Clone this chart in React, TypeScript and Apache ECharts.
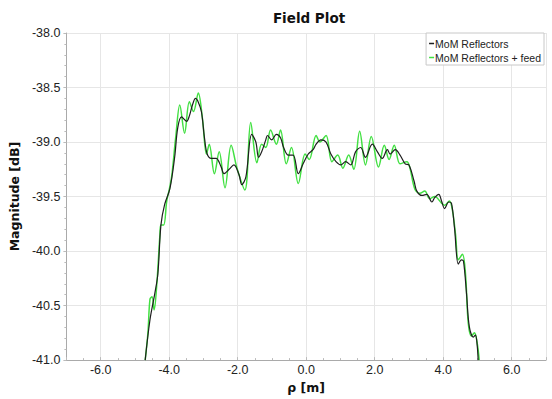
import React, { useEffect, useRef } from "react";
import * as echarts from "echarts";

const rhoBlack = [-4.70, -4.56, -4.42, -4.33, -4.24, -4.13, -3.98, -3.84, -3.75, -3.64, -3.49, -3.41, -3.32, -3.23, -3.17, -3.06, -2.97, -2.89, -2.77, -2.63, -2.48, -2.40, -2.25, -2.11, -1.96, -1.88, -1.76, -1.59, -1.47, -1.39, -1.30, -1.18, -1.13, -1.01, -0.87, -0.75, -0.66, -0.52, -0.38, -0.23, -0.09, 0.06, 0.20, 0.29, 0.43, 0.58, 0.72, 0.87, 1.01, 1.15, 1.30, 1.44, 1.59, 1.73, 1.93, 2.08, 2.22, 2.37, 2.45, 2.60, 2.74, 2.89, 3.00, 3.15, 3.23, 3.38, 3.52, 3.67, 3.75, 3.87, 3.95, 4.04, 4.16, 4.24, 4.33, 4.44, 4.53, 4.59, 4.68, 4.76, 4.88, 4.94, 4.99, 5.02];
const magBlack = [-41.00, -40.63, -40.39, -40.21, -39.76, -39.57, -39.43, -39.14, -38.87, -38.77, -38.81, -38.76, -38.66, -38.60, -38.62, -38.72, -38.96, -39.11, -39.15, -39.15, -39.23, -39.29, -39.25, -39.21, -39.30, -39.39, -39.32, -38.93, -39.00, -39.14, -39.09, -38.98, -38.94, -38.98, -38.93, -38.96, -39.05, -39.12, -39.12, -39.29, -39.20, -39.11, -39.07, -39.02, -38.98, -39.00, -39.11, -39.18, -39.21, -39.18, -39.21, -39.09, -39.05, -39.14, -39.02, -39.09, -39.15, -39.07, -39.11, -39.07, -39.12, -39.20, -39.21, -39.36, -39.45, -39.49, -39.48, -39.55, -39.51, -39.48, -39.54, -39.61, -39.55, -39.56, -39.79, -40.12, -40.08, -40.09, -40.39, -40.69, -40.79, -40.77, -40.86, -41.00];

const rhoGreen = [-4.70, -4.62, -4.56, -4.50, -4.44, -4.36, -4.27, -4.24, -4.16, -4.07, -3.98, -3.92, -3.81, -3.69, -3.55, -3.41, -3.29, -3.15, -3.03, -2.91, -2.83, -2.68, -2.54, -2.37, -2.19, -2.02, -1.79, -1.62, -1.44, -1.30, -1.18, -1.04, -0.87, -0.75, -0.58, -0.43, -0.23, -0.03, 0.09, 0.29, 0.40, 0.58, 0.75, 0.92, 1.07, 1.24, 1.39, 1.56, 1.73, 1.90, 2.11, 2.28, 2.42, 2.57, 2.74, 2.94, 3.03, 3.17, 3.32, 3.46, 3.61, 3.75, 3.95, 4.04, 4.18, 4.27, 4.36, 4.44, 4.56, 4.65, 4.73, 4.82, 4.91, 4.99, 5.05];
const magGreen = [-41.00, -40.75, -40.44, -40.42, -40.54, -40.30, -39.85, -39.76, -39.76, -39.54, -39.41, -39.30, -38.96, -38.66, -38.92, -38.63, -38.72, -38.55, -38.78, -39.11, -39.02, -39.29, -39.09, -39.42, -39.03, -39.24, -39.44, -38.82, -39.19, -39.02, -39.05, -38.89, -39.02, -38.89, -39.20, -39.05, -39.38, -39.11, -39.16, -38.94, -39.00, -38.94, -39.18, -39.12, -39.24, -39.12, -39.25, -38.90, -39.21, -38.95, -39.23, -39.03, -39.16, -39.03, -39.20, -39.18, -39.24, -39.43, -39.47, -39.45, -39.52, -39.50, -39.56, -39.58, -39.54, -39.63, -39.85, -40.08, -40.03, -40.21, -40.66, -40.78, -40.75, -40.84, -41.00];

const seriesNames = ["MoM Reflectors", "MoM Reflectors + feed"];
const seriesColors = ["#1e1e1e", "#42e042"];

const FONT = "Liberation Sans";
const BOLD_FONT = "DejaVu Sans";

export default function App() {
  const ref = useRef<HTMLDivElement>(null);
  useEffect(() => {
    if (!ref.current) return;
    const chart = echarts.init(ref.current, null, { renderer: "svg" });
    const black = rhoBlack.map((x, i) => [x, magBlack[i]]);
    const green = rhoGreen.map((x, i) => [x, magGreen[i]]);
    chart.setOption({
      animation: false,
      backgroundColor: "#ffffff",
      title: {
        text: "Field Plot",
        left: 304,
        textAlign: "center",
        top: 6,
        textStyle: { fontFamily: BOLD_FONT, fontSize: 13.5, fontWeight: "bold", color: "#111" },
      },
      legend: {
        right: 8,
        top: 33,
        orient: "vertical",
        backgroundColor: "#ffffff",
        borderColor: "#c8c8c8",
        borderWidth: 1,
        borderRadius: 0,
        padding: [5, 3, 2, 3],
        itemGap: 3,
        itemWidth: 5,
        itemHeight: 1.5,
        icon: "rect",
        textStyle: { fontFamily: FONT, fontSize: 10.5, color: "#222", padding: [0, 0, 0, -4] },
        data: seriesNames,
      },
      grid: { left: 61, right: 6, top: 33, bottom: 31, containLabel: false },
      xAxis: {
        type: "value",
        min: -7,
        max: 7,
        splitNumber: 7,
        name: "ρ [m]",
        nameLocation: "middle",
        nameGap: 17,
        nameTextStyle: { fontFamily: BOLD_FONT, fontSize: 12.5, fontWeight: "bold", color: "#111" },
        axisLine: { onZero: false, lineStyle: { color: "#aaaaaa" } },
        axisTick: { show: true, inside: true, length: 3, lineStyle: { color: "#bbbbbb" } },
        minorTick: { show: true, splitNumber: 4, length: 2, lineStyle: { color: "#bbbbbb" } },
        axisLabel: {
          showMinLabel: false,
          showMaxLabel: false,
          fontFamily: FONT,
          fontSize: 12.5,
          color: "#222",
          margin: 3,
          formatter: (v: number) => v.toFixed(1),
        },
        splitLine: { show: true, lineStyle: { color: "#e6e6e6" } },
      },
      yAxis: {
        type: "value",
        min: -41,
        max: -38,
        interval: 0.5,
        name: "Magnitude [dB]",
        nameLocation: "middle",
        nameGap: 35,
        nameTextStyle: { fontFamily: BOLD_FONT, fontSize: 12.5, fontWeight: "bold", color: "#111" },
        axisLine: { show: true, onZero: false, lineStyle: { color: "#aaaaaa" } },
        axisTick: { show: true, length: 3, lineStyle: { color: "#bbbbbb" } },
        minorTick: { show: true, splitNumber: 5, length: 2, lineStyle: { color: "#bbbbbb" } },
        axisLabel: {
          fontFamily: FONT,
          fontSize: 12.5,
          color: "#222",
          margin: 6,
          formatter: (v: number) => v.toFixed(1),
        },
        splitLine: { show: true, lineStyle: { color: "#e6e6e6" } },
      },
      series: [
        {
          name: seriesNames[0],
          type: "line",
          data: black,
          showSymbol: false,
          smooth: 0.35,
          color: seriesColors[0],
          lineStyle: { width: 1.2, color: seriesColors[0] },
          z: 3,
        },
        {
          name: seriesNames[1],
          type: "line",
          data: green,
          showSymbol: false,
          smooth: 0.35,
          color: seriesColors[1],
          lineStyle: { width: 1.5, color: seriesColors[1] },
          z: 2,
        },
      ],
    });
    return () => chart.dispose();
  }, []);
  return <div ref={ref} style={{ width: 552, height: 399, position: "absolute", left: 0, top: 0 }} />;
}
